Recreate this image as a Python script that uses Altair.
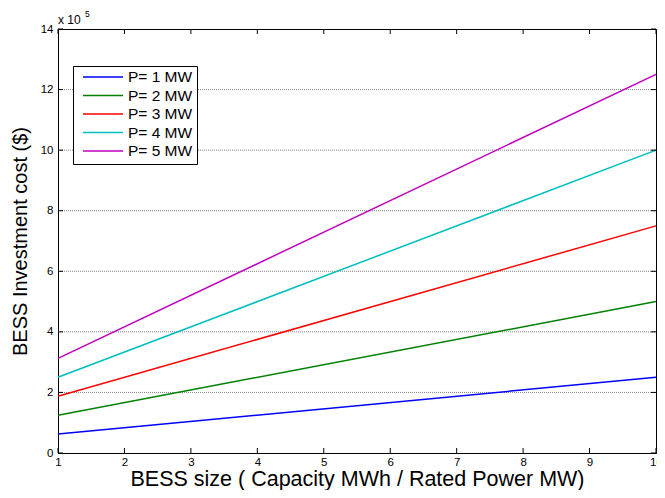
import altair as alt
import pandas as pd

# ---- data (cost in units of 1e5 $) ----
bess_size = [1, 10]
series = ["P= 1 MW", "P= 2 MW", "P= 3 MW", "P= 4 MW", "P= 5 MW"]
cost_at_1 = [0.625, 1.25, 1.875, 2.5, 3.125]
cost_at_10 = [2.5, 5.0, 7.5, 10.0, 12.5]
colors = ["#0000ff", "#008000", "#ff0000", "#00bfbf", "#bf00bf"]
x_ticks = [1, 2, 3, 4, 5, 6, 7, 8, 9, 10]
y_ticks = [0, 2, 4, 6, 8, 10, 12, 14]
grid_vals = [2, 4, 6, 8, 10, 12]

rows = []
for s, a, b in zip(series, cost_at_1, cost_at_10):
    rows.append({"size": bess_size[0], "cost": a, "series": s})
    rows.append({"size": bess_size[1], "cost": b, "series": s})
df = pd.DataFrame(rows)

W, H = 598, 424
FONT = "Liberation Sans"

xs = alt.Scale(domain=[1, 10], nice=False, zero=False)
ys = alt.Scale(domain=[0, 14], nice=False, zero=True)

x_axis = alt.Axis(values=x_ticks, title="BESS size ( Capacity MWh / Rated Power MW)",
                  grid=False, ticks=False, labelPadding=3, titlePadding=1, format="d",
                  labelFlush=False, titleFontSize=21.5)
y_axis = alt.Axis(values=y_ticks, title="BESS Investment cost ($)",
                  grid=False, ticks=False, labelPadding=5, titlePadding=10, format="d",
                  labelFlush=False, titleFontSize=20)

grid = alt.Chart(pd.DataFrame({"v": grid_vals})).mark_rule(
    color="#808080", strokeWidth=1, strokeDash=[1, 1]
).encode(
    y=alt.Y("v:Q", scale=ys, axis=y_axis),
    x=alt.value(0), x2=alt.value(W),
)

lines = alt.Chart(df).mark_line(strokeWidth=1.5).encode(
    x=alt.X("size:Q", scale=xs, axis=x_axis),
    y=alt.Y("cost:Q", scale=ys, axis=y_axis),
    color=alt.Color("series:N", scale=alt.Scale(domain=series, range=colors),
                    legend=alt.Legend(title=None, orient="none", legendX=15, legendY=37,
                                      strokeColor="black", fillColor="white", padding=4,
                                      symbolType="stroke", symbolSize=1600,
                                      symbolStrokeWidth=1.5, labelFontSize=15.5,
                                      labelFont=FONT, labelColor="black",
                                      clipHeight=14, rowPadding=2.5,
                                      symbolOffset=5, labelOffset=4)),
)

yt = pd.DataFrame({"v": y_ticks})
xt = pd.DataFrame({"v": x_ticks})
tick_style = dict(color="black", strokeWidth=1)
ytl = alt.Chart(yt).mark_rule(**tick_style).encode(
    y=alt.Y("v:Q", scale=ys, axis=y_axis), x=alt.value(0), x2=alt.value(5))
ytr = alt.Chart(yt).mark_rule(**tick_style).encode(
    y=alt.Y("v:Q", scale=ys, axis=y_axis), x=alt.value(W - 5), x2=alt.value(W))
xtb = alt.Chart(xt).mark_rule(**tick_style).encode(
    x=alt.X("v:Q", scale=xs, axis=x_axis), y=alt.value(H - 5), y2=alt.value(H))
xtt = alt.Chart(xt).mark_rule(**tick_style).encode(
    x=alt.X("v:Q", scale=xs, axis=x_axis), y=alt.value(0), y2=alt.value(5))

mult = alt.Chart(pd.DataFrame({"t": ["x 10"]})).mark_text(
    align="left", baseline="middle", fontSize=12, font=FONT, color="black"
).encode(text="t:N", x=alt.value(0), y=alt.value(-9))
expo = alt.Chart(pd.DataFrame({"t": ["5"]})).mark_text(
    align="left", baseline="middle", fontSize=8.5, font=FONT, color="black"
).encode(text="t:N", x=alt.value(27), y=alt.value(-15))

chart = alt.layer(grid, lines, ytl, ytr, xtb, xtt, mult, expo).properties(
    width=W, height=H,
    autosize=alt.AutoSizeParams(type="none"),
    padding={"left": 50, "top": 21, "right": 1, "bottom": 37},
).configure_view(
    stroke="black", strokeWidth=1
).configure_axis(
    labelFont=FONT, labelFontSize=11.5, labelColor="black",
    titleFont=FONT, titleFontWeight="normal", titleColor="black",
    domainColor="black", domainWidth=1,
)

chart.save("out.html", embed_options={"renderer": "svg", "actions": False})
